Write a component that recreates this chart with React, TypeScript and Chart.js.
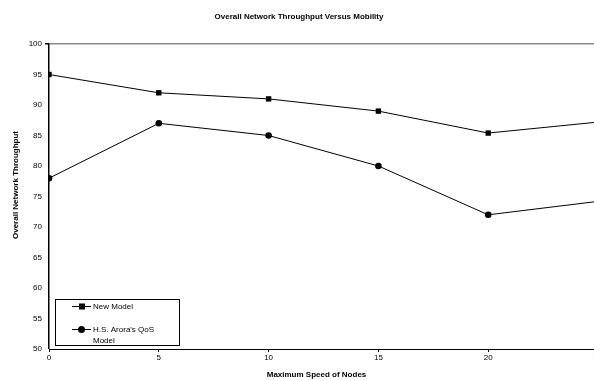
import React, { useEffect, useRef } from "react";
import { Chart, registerables } from "chart.js";

Chart.register(...registerables);

const chartTitle = "Overall Network Throughput Versus Mobility";
const xAxisTitle = "Maximum Speed of Nodes";
const yAxisTitle = "Overall Network Throughput";
const speeds = [0, 5, 10, 15, 20, 25];
const newModel = [95, 92, 91, 89, 85.4, 87.2];
const aroraModel = [78, 87, 85, 80, 72, 74.2];
const seriesNames = ["New Model", "H.S. Arora's QoS Model"];
const legendLines = [["New Model"], ["H.S. Arora's QoS", "Model"]];

const FONT = "'Liberation Sans', Arial, sans-serif";

const customPlugin = {
  id: "custom",
  afterDraw(chart: any) {
    const ctx = chart.ctx;
    const area = chart.chartArea;
    ctx.save();
    ctx.fillStyle = "#000";
    ctx.font = `bold 8px ${FONT}`;
    ctx.textAlign = "center";
    ctx.textBaseline = "middle";
    ctx.fillText(xAxisTitle, 316.5, 375);
    ctx.save();
    ctx.translate(16, 185);
    ctx.rotate(-Math.PI / 2);
    ctx.fillText(yAxisTitle, 0, 0);
    ctx.restore();

    const bx = area.left + 6.5;
    const by = 299.5;
    ctx.fillStyle = "#fff";
    ctx.fillRect(bx, by, 124, 46);
    ctx.strokeStyle = "#000";
    ctx.lineWidth = 1;
    ctx.strokeRect(bx, by, 124, 46);
    const rows = [306, 329];
    chart.data.datasets.forEach((ds: any, i: number) => {
      const y = rows[i];
      ctx.strokeStyle = "#000";
      ctx.lineWidth = 1;
      ctx.beginPath();
      ctx.moveTo(72, y + 0.5);
      ctx.lineTo(91, y + 0.5);
      ctx.stroke();
      ctx.fillStyle = "#000";
      if (ds.pointStyle === "rect") {
        ctx.fillRect(79, y - 2.5, 6, 6);
      } else {
        ctx.beginPath();
        ctx.arc(81.5, y + 0.5, 3.5, 0, Math.PI * 2);
        ctx.fill();
      }
      ctx.font = `8px ${FONT}`;
      ctx.textAlign = "left";
      ctx.textBaseline = "middle";
      legendLines[i].forEach((t, j) => {
        ctx.fillText(t, 93, y + 0.5 + j * 11);
      });
    });
    ctx.restore();
  },
};

export default function App() {
  const ref = useRef<HTMLCanvasElement>(null);
  useEffect(() => {
    if (!ref.current) return;
    const chart = new Chart(ref.current, {
      type: "line",
      data: {
        datasets: [
          {
            label: seriesNames[0],
            data: speeds.map((x, i) => ({ x, y: newModel[i] })),
            borderColor: "#000",
            backgroundColor: "#000",
            borderWidth: 1,
            pointStyle: "rect",
            pointRadius: 3.8,
            pointBorderWidth: 0,
          },
          {
            label: seriesNames[1],
            data: speeds.map((x, i) => ({ x, y: aroraModel[i] })),
            borderColor: "#000",
            backgroundColor: "#000",
            borderWidth: 1,
            pointStyle: "circle",
            pointRadius: 3.3,
            pointBorderWidth: 0,
          },
        ],
      },
      options: {
        responsive: false,
        animation: false,
        layout: { padding: { left: 0, right: 75, top: 0, bottom: 0 } },
        plugins: {
          legend: { display: false },
          tooltip: { enabled: false },
          title: {
            display: true,
            text: chartTitle,
            color: "#000",
            font: { family: FONT, size: 8, weight: "bold" },
            padding: { top: 12, bottom: 22.4 },
          },
        },
        scales: {
          x: {
            type: "linear",
            min: 0,
            max: 25,
            afterFit(scale: any) {
              scale.height = 31;
            },
            ticks: {
              stepSize: 5,
              color: "#000",
              font: { family: FONT, size: 8 },
              padding: 1,
              maxRotation: 0,
            },
            grid: {
              drawOnChartArea: false,
              drawTicks: true,
              tickLength: 3,
              tickColor: "#000",
            },
            border: { color: "#000", width: 1 },
          },
          y: {
            min: 50,
            max: 100,
            afterFit(scale: any) {
              scale.width = 49;
            },
            ticks: {
              stepSize: 5,
              color: "#000",
              font: { family: FONT, size: 8 },
              padding: 3,
            },
            grid: {
              drawOnChartArea: true,
              color: (c: any) => (c.tick && c.tick.value === 100 ? "#8a8a8a" : "rgba(0,0,0,0)"),
              lineWidth: (c: any) => (c.tick && c.tick.value === 100 ? 1.5 : 0),
              drawTicks: true,
              tickLength: 4,
              tickColor: "#000",
            },
            border: { color: "#000", width: 1.5 },
          },
        },
      },
      plugins: [customPlugin],
    });
    return () => chart.destroy();
  }, []);
  return (
    <div
      style={{
        position: "fixed",
        left: 0,
        top: 0,
        width: 594,
        height: 380,
        overflow: "hidden",
        background: "#fff",
      }}
    >
      <canvas ref={ref} width={673} height={380} style={{ display: "block", width: 673, height: 380 }} />
    </div>
  );
}
